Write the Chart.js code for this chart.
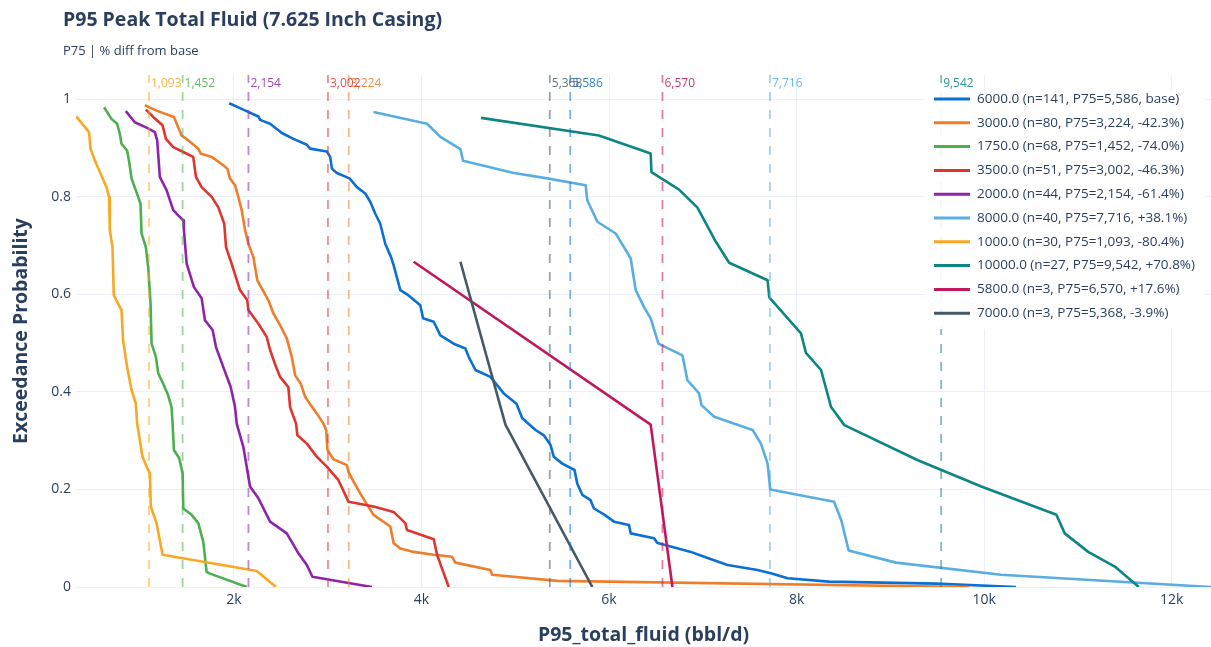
<!DOCTYPE html>
<html lang="en">
<head>
<meta charset="UTF-8">
<title>P95 Peak Total Fluid (7.625 Inch Casing)</title>
<script src="https://cdn.jsdelivr.net/npm/chart.js"></script>
<style>
    body { margin: 0; background: #fff; font-family: "Open Sans", Arial, sans-serif; }
    #wrap { position: relative; width: 1211px; height: 647px; }
    #title { position: absolute; left: 63px; top: 6px; line-height: 25px; font-size: 19.5px; font-weight: bold; color: #2a3f5f; }
    #subtitle { position: absolute; left: 63px; top: 42px; line-height: 17px; font-size: 13px; color: #2a3f5f; }
</style>
</head>
<body>
<div id="wrap">
    <canvas id="chart"></canvas>
    <div id="title">P95 Peak Total Fluid (7.625 Inch Casing)</div>
    <div id="subtitle">P75 | % diff from base</div>
</div>
<script>
// groups in legend order
const groups = ['6000.0', '3000.0', '1750.0', '3500.0', '2000.0', '8000.0', '1000.0', '10000.0', '5800.0', '7000.0'];
const counts = [141, 80, 68, 51, 44, 40, 30, 27, 3, 3];
const p75 = [5586, 3224, 1452, 3002, 2154, 7716, 1093, 9542, 6570, 5368];
const pctDiff = ['base', '-42.3%', '-74.0%', '-46.3%', '-61.4%', '+38.1%', '-80.4%', '+70.8%', '+17.6%', '-3.9%'];

// exceedance curves: [P95 total fluid, exceedance probability]
const curve6000 = [[1949,0.992],[2099,0.979],[2260,0.965],[2278,0.958],[2385,0.950],[2510,0.931],[2634,0.919],[2777,0.907],[2812,0.899],[2990,0.893],[3026,0.882],[3044,0.858],[3097,0.849],[3232,0.838],[3311,0.820],[3400,0.807],[3453,0.790],[3506,0.766],[3560,0.745],[3613,0.704],[3674,0.677],[3702,0.660],[3774,0.609],[3862,0.598],[3987,0.578],[4016,0.551],[4130,0.544],[4201,0.516],[4343,0.499],[4468,0.489],[4503,0.472],[4575,0.445],[4735,0.431],[4877,0.397],[5013,0.376],[5074,0.346],[5216,0.322],[5305,0.311],[5376,0.291],[5411,0.267],[5501,0.253],[5632,0.240],[5661,0.212],[5715,0.189],[5803,0.178],[5839,0.161],[5953,0.148],[6053,0.134],[6213,0.127],[6231,0.110],[6480,0.100],[6516,0.090],[6658,0.083],[6872,0.072],[7014,0.062],[7264,0.045],[7584,0.035],[7744,0.027],[7905,0.018],[8346,0.011],[9486,0.007],[10341,0]];
const curve3000 = [[1049,0.988],[1174,0.977],[1359,0.964],[1405,0.943],[1441,0.926],[1512,0.916],[1619,0.899],[1644,0.889],[1762,0.882],[1886,0.865],[1929,0.858],[1957,0.838],[2011,0.824],[2046,0.800],[2082,0.773],[2118,0.732],[2153,0.704],[2206,0.677],[2249,0.629],[2307,0.609],[2367,0.588],[2420,0.561],[2491,0.537],[2563,0.510],[2616,0.472],[2652,0.434],[2712,0.417],[2759,0.390],[2819,0.373],[2883,0.356],[2954,0.335],[2983,0.322],[2997,0.281],[3061,0.262],[3204,0.250],[3221,0.236],[3275,0.216],[3346,0.192],[3400,0.175],[3488,0.148],[3667,0.124],[3702,0.090],[3774,0.079],[3916,0.072],[4130,0.066],[4326,0.062],[4361,0.050],[4735,0.035],[4753,0.025],[5450,0.0125],[9845,0]];
const curve1750 = [[614,0.984],[693,0.960],[753,0.950],[782,0.930],[800,0.909],[860,0.895],[882,0.872],[907,0.838],[978,0.800],[1003,0.786],[1014,0.725],[1060,0.697],[1085,0.656],[1110,0.581],[1121,0.499],[1167,0.472],[1192,0.438],[1245,0.417],[1298,0.393],[1334,0.369],[1345,0.335],[1359,0.281],[1416,0.264],[1452,0.233],[1459,0.161],[1548,0.148],[1619,0.131],[1672,0.093],[1708,0.031],[1737,0.028],[2136,0]];
const curve3500 = [[1060,0.979],[1138,0.964],[1238,0.947],[1274,0.919],[1352,0.902],[1459,0.892],[1565,0.882],[1594,0.841],[1655,0.820],[1762,0.800],[1832,0.779],[1896,0.745],[1915,0.697],[1975,0.663],[2064,0.609],[2142,0.588],[2153,0.568],[2260,0.540],[2349,0.513],[2385,0.486],[2449,0.451],[2491,0.431],[2580,0.410],[2598,0.369],[2662,0.335],[2676,0.311],[2777,0.294],[2883,0.267],[2990,0.247],[3114,0.219],[3221,0.175],[3488,0.165],[3702,0.154],[3827,0.131],[3845,0.117],[4130,0.098],[4166,0.066],[4290,0]];
const curve2000 = [[846,0.976],[942,0.953],[1067,0.942],[1156,0.933],[1181,0.916],[1209,0.841],[1281,0.814],[1352,0.773],[1405,0.762],[1459,0.752],[1466,0.732],[1495,0.663],[1573,0.615],[1655,0.592],[1690,0.547],[1772,0.527],[1808,0.492],[1886,0.451],[1965,0.410],[2011,0.369],[2029,0.335],[2100,0.287],[2171,0.206],[2260,0.182],[2385,0.134],[2563,0.110],[2687,0.069],[2777,0.045],[2836,0.021],[3471,0]];
const curve8000 = [[3488,0.974],[4059,0.950],[4201,0.923],[4415,0.898],[4443,0.874],[4984,0.849],[5341,0.838],[5750,0.824],[5768,0.793],[5875,0.749],[6071,0.725],[6231,0.674],[6284,0.609],[6373,0.574],[6444,0.551],[6527,0.499],[6783,0.475],[6836,0.424],[6960,0.397],[6986,0.373],[7121,0.349],[7531,0.322],[7620,0.294],[7691,0.253],[7719,0.200],[8400,0.175],[8477,0.137],[8555,0.075],[9060,0.050],[10180,0.025],[12420,0]];
const curve1000 = [[317,0.965],[454,0.933],[469,0.899],[515,0.875],[586,0.844],[640,0.820],[668,0.800],[675,0.732],[704,0.697],[718,0.598],[800,0.568],[817,0.506],[860,0.451],[907,0.404],[953,0.376],[967,0.335],[996,0.301],[1024,0.267],[1067,0.247],[1103,0.233],[1113,0.165],[1174,0.131],[1238,0.066],[2242,0.033],[2449,0]];
const curve10000 = [[4635,0.962],[5892,0.926],[6444,0.889],[6452,0.851],[6747,0.815],[6943,0.778],[7139,0.708],[7281,0.665],[7691,0.629],[7709,0.594],[8047,0.520],[8100,0.480],[8261,0.445],[8368,0.369],[8510,0.332],[9294,0.260],[9970,0.206],[10771,0.148],[10860,0.110],[11110,0.072],[11394,0.042],[11650,0]];
const curve5800 = [[3916,0.667],[6444,0.333],[6676,0]];
const curve7000 = [[4415,0.667],[4895,0.333],[5822,0]];
const curves = [curve6000, curve3000, curve1750, curve3500, curve2000, curve8000, curve1000, curve10000, curve5800, curve7000];

// axes
const xRange = [315, 12420];
const yRange = [0, 1.05];
const xTicks = [2000, 4000, 6000, 8000, 10000, 12000];
const xTickLabels = ['2k', '4k', '6k', '8k', '10k', '12k'];
const yTicks = [0, 0.2, 0.4, 0.6, 0.8, 1];
const yTickLabels = ['0', '0.2', '0.4', '0.6', '0.8', '1'];

// styles
const colors = ['#0b6fd3', '#ef7d2a', '#4caf50', '#e0342f', '#8e24aa', '#58ade2', '#f9a825', '#0e8585', '#c2185b', '#455a64'];
const ink = '#2a3f5f';
const gridColor = '#ebf0f8';

function withAlpha(hex, a) {
    const n = parseInt(hex.slice(1), 16);
    return `rgba(${n >> 16}, ${(n >> 8) & 255}, ${n & 255}, ${a})`;
}

const fmt = v => v.toLocaleString('en-US');

const datasets = [];
curves.forEach((c, i) => {
    datasets.push({
        label: `${groups[i]} (n=${counts[i]}, P75=${fmt(p75[i])}, ${pctDiff[i]})`,
        data: c.map(p => ({ x: p[0], y: p[1] })),
        borderColor: colors[i],
        borderWidth: 2.6,
        pointRadius: 0,
        tension: 0,
        borderJoinStyle: 'round',
        order: -i
    });
});
p75.forEach((v, i) => {
    datasets.push({
        label: 'P75 ' + groups[i],
        data: [{ x: v, y: yRange[0] }, { x: v, y: yRange[1] }],
        borderColor: withAlpha(colors[i], 0.55),
        borderWidth: 1.8,
        borderDash: [9, 9],
        pointRadius: 0,
        isMarker: true,
        order: -20 - i
    });
});

// P75 value labels at the top of each dashed line
const p75Labels = {
    id: 'p75Labels',
    afterDatasetsDraw(chart) {
        const { ctx, chartArea, scales } = chart;
        ctx.save();
        ctx.font = '12px "Open Sans", sans-serif';
        ctx.textBaseline = 'middle';
        ctx.textAlign = 'left';
        p75.forEach((v, i) => {
            ctx.fillStyle = withAlpha(colors[i], 0.85);
            ctx.fillText(fmt(v), scales.x.getPixelForValue(v) + 2, chartArea.top + 9);
        });
        ctx.restore();
    }
};

// legend box inside the plot, top right
const legendBox = {
    id: 'legendBox',
    afterDraw(chart) {
        const { ctx, chartArea } = chart;
        const items = datasets.filter(d => !d.isMarker);
        ctx.save();
        ctx.font = '13.5px "Open Sans", sans-serif';
        const maxW = Math.max(...items.map(d => ctx.measureText(d.label).width));
        const right = chartArea.right - 6;
        const left = right - maxW - 62;
        const top = chartArea.top + 16;
        const rowH = 23.8;
        ctx.fillStyle = 'rgba(255,255,255,0.9)';
        ctx.fillRect(left, top, right - left, rowH * items.length);
        items.forEach((d, i) => {
            const y = top + 8 + i * rowH;
            ctx.strokeStyle = d.borderColor;
            ctx.lineWidth = 3;
            ctx.beginPath();
            ctx.moveTo(left + 9, y);
            ctx.lineTo(left + 45, y);
            ctx.stroke();
            ctx.fillStyle = ink;
            ctx.textBaseline = 'middle';
            ctx.fillText(d.label, left + 52, y);
        });
        ctx.restore();
    }
};

Chart.defaults.font.family = '"Open Sans", sans-serif';
Chart.defaults.color = ink;

new Chart(document.getElementById('chart'), {
    type: 'line',
    data: { datasets },
    plugins: [p75Labels, legendBox],
    options: {
        responsive: true,
        maintainAspectRatio: false,
        animation: false,
        layout: { padding: { top: 75 } },
        plugins: {
            legend: { display: false },
            tooltip: { enabled: false },
            title: { display: false }
        },
        scales: {
            x: {
                type: 'linear',
                min: xRange[0],
                max: xRange[1],
                afterBuildTicks: s => { s.ticks = xTicks.map(v => ({ value: v })); },
                afterFit: s => { s.height = 60; },
                ticks: {
                    font: { size: 14 },
                    color: ink,
                    padding: 5,
                    callback: (v, i) => xTickLabels[i]
                },
                grid: { color: gridColor, drawTicks: false },
                border: { display: false },
                title: {
                    display: true,
                    text: 'P95_total_fluid (bbl/d)',
                    font: { size: 19.5, weight: 'bold' },
                    color: ink,
                    padding: { top: 0, bottom: 0 }
                }
            },
            y: {
                type: 'linear',
                min: yRange[0],
                max: yRange[1],
                afterBuildTicks: s => { s.ticks = yTicks.map(v => ({ value: v })); },
                afterFit: s => { s.width = 76; },
                ticks: {
                    font: { size: 14 },
                    color: ink,
                    padding: 5,
                    callback: (v, i) => yTickLabels[i]
                },
                grid: { color: gridColor, drawTicks: false },
                border: { display: false },
                title: {
                    display: true,
                    text: 'Exceedance Probability',
                    font: { size: 19.5, weight: 'bold' },
                    color: ink,
                    padding: { top: 10, bottom: 0 }
                }
            }
        }
    }
});
</script>
</body>
</html>
